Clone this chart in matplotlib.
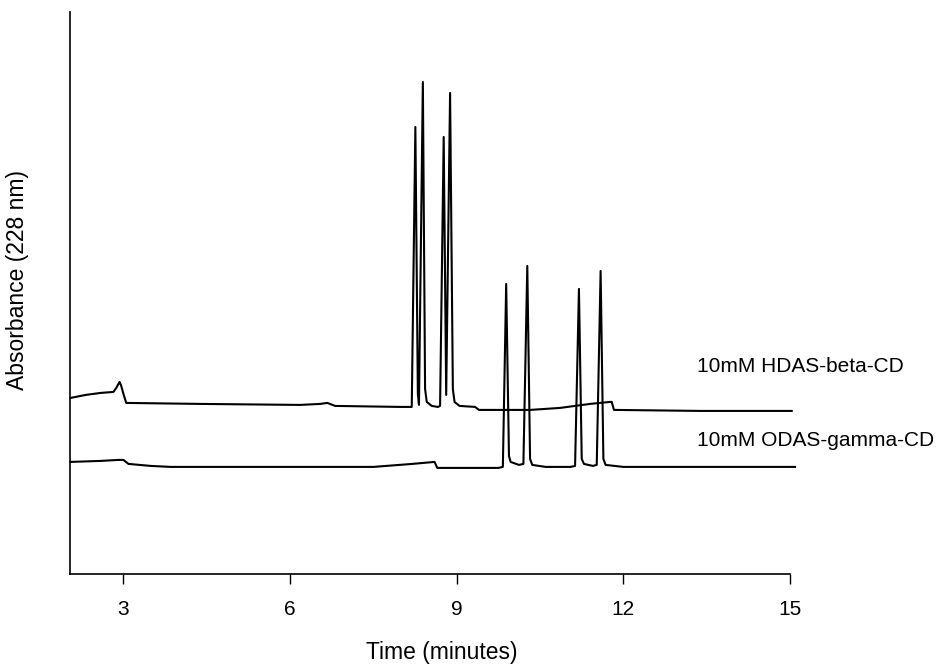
import matplotlib.pyplot as plt
import numpy as np

plt.rcParams['font.family'] = ['Liberation Sans', 'DejaVu Sans']

# trace points (time in minutes, absorbance in arbitrary units)
hdas_time = [2.05, 2.32, 2.59, 2.82, 2.87, 2.93, 2.96, 3.00, 3.05, 4.38, 6.18, 6.54, 6.67, 6.81,
             7.98, 8.19, 8.255, 8.30, 8.32, 8.39, 8.43, 8.46, 8.55, 8.66, 8.70, 8.765, 8.81,
             8.88, 8.93, 8.96, 9.05, 9.33, 9.40, 10.32, 10.86, 11.40, 11.76, 11.79, 11.83,
             13.38, 15.03]
hdas_abs = [176, 179, 181, 182, 186, 192, 188, 180, 171, 170, 169, 170, 171, 168,
            167, 167, 447, 180, 169, 492, 185, 172, 168, 167, 168, 437, 179,
            481, 185, 172, 168, 167, 164, 164, 166, 170, 172, 172, 164,
            163, 163]

odas_time = [2.05, 2.59, 2.91, 3.00, 3.09, 3.49, 3.85, 4.50, 6.00, 7.50, 8.20, 8.60,
             8.65, 9.00, 9.75, 9.83, 9.89, 9.94, 9.97, 10.12, 10.20, 10.27, 10.32, 10.36,
             10.60, 11.05, 11.13, 11.20, 11.25, 11.29, 11.45, 11.52, 11.59, 11.64, 11.68,
             12.00, 13.50, 15.09]
odas_abs = [112, 113, 114, 114, 110, 108, 107, 107, 107, 107, 110, 112,
            106, 106, 106, 107, 290, 118, 112, 109, 110, 308, 115, 109,
            107, 107, 108, 285, 115, 110, 108, 109, 303, 115, 109,
            107, 107, 107]

trace_labels = ['10mM HDAS-beta-CD', '10mM ODAS-gamma-CD']
xticks = [3, 6, 9, 12, 15]

fig = plt.figure(figsize=(9.53, 6.65), dpi=100)
ax = fig.add_axes([0.073, 0.137, 0.756, 0.845])

ax.plot(hdas_time, hdas_abs, color='black', lw=1.5, clip_on=False)
ax.plot(odas_time, odas_abs, color='black', lw=1.5, clip_on=False)

ax.text(13.33, 207, trace_labels[0], fontsize=15, va='center', ha='left')
ax.text(13.33, 133, trace_labels[1], fontsize=15, va='center', ha='left')

ax.set_xlim(2.03, 15)
ax.set_ylim(0, 562)
ax.set_xticks(xticks)
ax.set_yticks([])
ax.tick_params(axis='x', direction='out', length=7, width=1, pad=12, labelsize=15)

for s in ['top', 'right']:
    ax.spines[s].set_visible(False)
ax.spines['left'].set_linewidth(1.2)
ax.spines['bottom'].set_linewidth(1.2)

ax.set_xlabel('Time (minutes)', fontsize=16.5)
ax.set_ylabel('Absorbance (228 nm)', fontsize=16.5, labelpad=29)
ax.xaxis.set_label_coords(0.517, -0.12)
ax.yaxis.get_label().set_y(0.523)

fig.savefig('out.png', dpi=100)
